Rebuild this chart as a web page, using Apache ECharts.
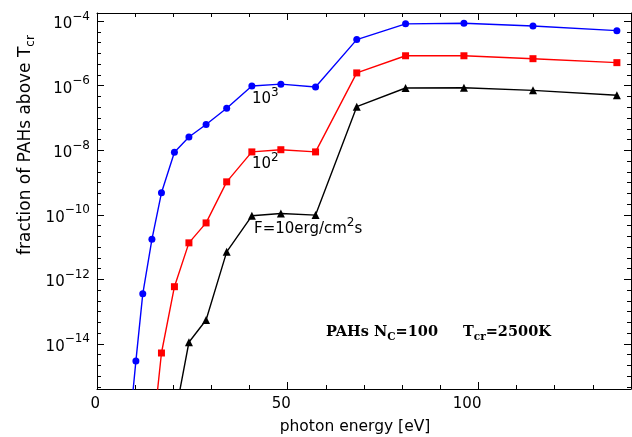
<!DOCTYPE html>
<html><head><meta charset="utf-8">
<script src="https://cdn.jsdelivr.net/npm/echarts@6/dist/echarts.min.js"></script>
<style>html,body{margin:0;padding:0;background:#fff}#c{width:632px;height:437px}</style>
</head><body><div id="c"></div>
<script>
// photon energy [eV]
const energy   = [8.6, 10.2, 12.0, 14.4, 16.9, 20.3, 24.1, 28.6, 34.0, 40.6, 48.2, 57.3, 68.1, 80.9, 96.2, 114.3, 136.3];
// fraction of PAHs above Tcr for F = 10^3, 10^2, 10 erg/cm2/s
const fracF1e3 = [3.2e-17, 2.95e-15, 3.55e-13, 1.74e-11, 4.8e-10, 8.7e-9, 2.57e-8, 6.3e-8, 2.0e-7, 9.8e-7, 1.12e-6, 9.1e-7, 2.69e-5, 8.3e-5, 8.7e-5, 7.1e-5, 5.1e-5];
const fracF1e2 = [null, null, null, 8e-18, 5.2e-15, 5.9e-13, 1.35e-11, 5.6e-11, 1.05e-9, 8.9e-9, 1.04e-8, 8.9e-9, 2.5e-6, 8.5e-6, 8.5e-6, 6.9e-6, 5.2e-6];
const fracF10  = [null, null, null, null, null, 4.7e-17, 1.12e-14, 5.5e-14, 7.1e-12, 9.3e-11, 1.1e-10, 9.8e-11, 2.24e-7, 8.5e-7, 8.7e-7, 7.2e-7, 5.1e-7];
// ticks
const xTickLabels = [0, 50, 100];
const xMinorTicks = [10, 20, 30, 40, 50, 60, 70, 80, 90, 100, 110, 120, 130];
const yTickExponents = [-14, -12, -10, -8, -6, -4];

const X_MIN = 0, X_MAX = 140, Y_MIN = -15.4, Y_MAX = -3.745;
const yMinorTicks = [];
for (let k = Math.ceil(Y_MIN * 3); k <= Math.floor(Y_MAX * 3); k++) yMinorTicks.push(k / 3);

const SANS = 'DejaVu Sans';
function toPts(vals) {
  const out = [];
  energy.forEach((x, i) => { if (vals[i] != null) out.push([x, Math.log10(vals[i])]); });
  return out;
}
const black = '#000';
function mkX(pos, ticks, len, line, labels, extra) {
  return Object.assign({
    type: 'value', position: pos, min: X_MIN, max: X_MAX,
    axisLine: { show: line, onZero: false, lineStyle: { color: black, width: 1 } },
    axisTick: { show: true, inside: true, length: len, customValues: ticks, lineStyle: { color: black, width: 1 } },
    axisLabel: labels ? {
      show: true, customValues: labels, color: black, fontFamily: SANS, fontSize: 15,
      margin: 8, align: 'right', padding: [0, -3, 0, 0]
    } : { show: false },
    splitLine: { show: false }
  }, extra || {});
}
function mkY(pos, ticks, len, line, labels, extra) {
  return Object.assign({
    type: 'value', position: pos, min: Y_MIN, max: Y_MAX,
    axisLine: { show: line, onZero: false, lineStyle: { color: black, width: 1 } },
    axisTick: { show: true, inside: true, length: len, customValues: ticks, lineStyle: { color: black, width: 1 } },
    axisLabel: labels ? {
      show: true, customValues: labels, margin: 7,
      formatter: v => '{b|10}{s|\u2212' + Math.abs(Math.round(v)) + '}',
      rich: {
        b: { fontFamily: SANS, fontSize: 15, color: black, lineHeight: 21, verticalAlign: 'bottom' },
        s: { fontFamily: SANS, fontSize: 12, color: black, lineHeight: 12, verticalAlign: 'top' }
      }
    } : { show: false },
    splitLine: { show: false }
  }, extra || {});
}

const supRich = {
  b: { fontFamily: SANS, fontSize: 15, fill: black, lineHeight: 20, verticalAlign: 'bottom' },
  s: { fontFamily: SANS, fontSize: 12, fill: black, lineHeight: 12, verticalAlign: 'top' }
};
const subRich = {
  b: { fontFamily: 'DejaVu Serif', fontWeight: 'bold', fontSize: 14.5, fill: black, lineHeight: 18, verticalAlign: 'top' },
  s: { fontFamily: 'DejaVu Serif', fontWeight: 'bold', fontSize: 10.5, fill: black, lineHeight: 10, verticalAlign: 'bottom' }
};
function txt(x, y, text, rich) {
  return { type: 'text', x: x, y: y, silent: true,
    style: { text: text, rich: rich, textAlign: 'left', textVerticalAlign: 'middle', align: 'left', verticalAlign: 'middle' } };
}

const chart = echarts.init(document.getElementById('c'), null, { renderer: 'canvas' });
chart.setOption({
  animation: false,
  backgroundColor: '#fff',
  grid: { left: 97, right: 1, top: 13, bottom: 48, containLabel: false, outerBoundsMode: 'none' },
  xAxis: [
    mkX('bottom', xMinorTicks, 4, true, xTickLabels, {
      name: 'photon energy [eV]', nameLocation: 'middle', nameGap: 30,
      nameTextStyle: { fontFamily: SANS, fontSize: 15.5, color: black, padding: [0, 18, 0, 0] }
    }),
    mkX('bottom', xTickLabels, 7, false, null),
    mkX('top', xMinorTicks, 4, true, null),
    mkX('top', xTickLabels, 7, false, null)
  ],
  yAxis: [
    mkY('left', yMinorTicks, 4, true, null, {
      name: '{b|fraction of PAHs above T}{s|cr}', nameLocation: 'middle', nameGap: 60,
      nameTextStyle: {
        padding: [0, 0, 0, 112],
        rich: {
          b: { fontFamily: SANS, fontSize: 17, color: black, lineHeight: 20, verticalAlign: 'top' },
          s: { fontFamily: SANS, fontSize: 12, color: black, lineHeight: 12, verticalAlign: 'bottom' }
        }
      }
    }),
    mkY('left', yTickExponents, 7, false, yTickExponents),
    mkY('right', yMinorTicks, 4, true, null),
    mkY('right', yTickExponents, 7, false, null)
  ],
  series: [
    { name: 'F=10^3', type: 'line', data: toPts(fracF1e3), xAxisIndex: 0, yAxisIndex: 0, clip: true,
      symbol: 'circle', symbolSize: 7, showSymbol: true, color: '#0000ff',
      lineStyle: { color: '#0000ff', width: 1.4 }, itemStyle: { color: '#0000ff' } },
    { name: 'F=10^2', type: 'line', data: toPts(fracF1e2), xAxisIndex: 0, yAxisIndex: 0, clip: true,
      symbol: 'rect', symbolSize: 7, showSymbol: true, color: '#ff0000',
      lineStyle: { color: '#ff0000', width: 1.4 }, itemStyle: { color: '#ff0000' } },
    { name: 'F=10', type: 'line', data: toPts(fracF10), xAxisIndex: 0, yAxisIndex: 0, clip: true,
      symbol: 'triangle', symbolSize: 8, showSymbol: true, color: '#000',
      lineStyle: { color: '#000', width: 1.4 }, itemStyle: { color: '#000' } }
  ],
  graphic: [
    txt(252, 97, '{b|10}{s|3}', supRich),
    txt(252, 161.5, '{b|10}{s|2}', supRich),
    txt(254, 226.5, '{b|F=10erg/cm}{s|2}{b|s}', supRich),
    txt(326, 334, '{b|PAHs N}{s|C}{b|=100}', subRich),
    txt(463, 334, '{b|T}{s|cr}{b|=2500K}', subRich)
  ]
});
</script></body></html>
